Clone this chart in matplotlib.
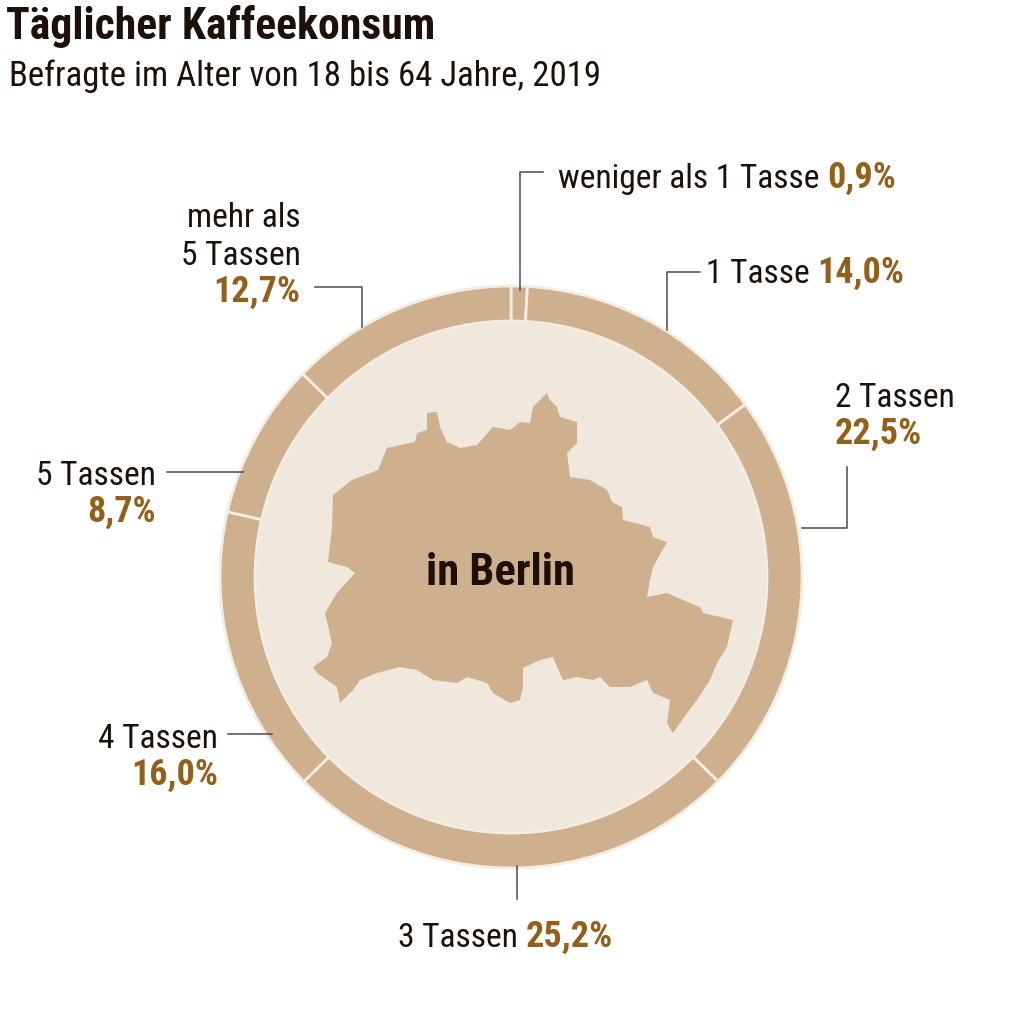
import matplotlib
matplotlib.use("Agg")
import matplotlib.pyplot as plt
from matplotlib import font_manager
from matplotlib.patches import Circle, Polygon

# Daten
kategorien = ["weniger als 1 Tasse", "1 Tasse", "2 Tassen", "3 Tassen",
              "4 Tassen", "5 Tassen", "mehr als", "5 Tassen"]
anteile = [0.9, 14.0, 22.5, 25.2, 16.0, 8.7, 12.7]
anteile_txt = ["0,9%", "14,0%", "22,5%", "25,2%", "16,0%", "8,7%", "12,7%"]

# Farben
ring_farbe = "#cfb08e"
innen_farbe = "#f0e7dd"
trenn_farbe = "#f4ede4"
text_farbe = "#1c1008"
prozent_farbe = "#93601b"
linie_farbe = "#4a4a4a"

# schmale Schrift suchen, sonst Roboto
vorhanden = {f.name for f in font_manager.fontManager.ttflist}
kandidaten = ['Roboto Condensed', 'Liberation Sans Narrow', 'DejaVu Sans Condensed',
              'Open Sans Condensed', 'Noto Sans Condensed', 'Roboto']
schrift = next((k for k in kandidaten if k in vorhanden), 'DejaVu Sans')
plt.rcParams['font.family'] = [schrift, 'DejaVu Sans']

H = 1024
fig = plt.figure(figsize=(10.24, 10.24), dpi=100)
ax = fig.add_axes([0, 0, 1, 1])

cx, cy = 511, H - 577
r_aussen = 291
r_innen = 256

ax.pie(anteile, center=(cx, cy), radius=r_aussen, startangle=90, counterclock=False,
       colors=[ring_farbe] * len(anteile),
       wedgeprops=dict(width=r_aussen - r_innen, edgecolor=trenn_farbe, linewidth=2))
ax.add_patch(Circle((cx, cy), r_innen - 1, facecolor=innen_farbe, edgecolor="none", zorder=3))

# Umriss Berlin (Pixelkoordinaten im Bild)
berlin = [(333, 495), (352, 480), (378, 470), (387, 448), (415, 442), (417, 433), (427, 430),
          (427, 413), (437, 412), (440, 427), (447, 442), (460, 448), (477, 445), (493, 427),
          (510, 430), (520, 422), (530, 423), (533, 407), (547, 393), (550, 400), (557, 407),
          (560, 417), (577, 422), (577, 443), (567, 453), (570, 477), (590, 480), (607, 490),
          (612, 502), (622, 507), (623, 520), (650, 527), (653, 537), (667, 542), (653, 567),
          (650, 580), (647, 597), (667, 593), (690, 603), (700, 607), (703, 613), (733, 620),
          (727, 647), (717, 663), (710, 680), (697, 700), (687, 713), (673, 733), (667, 723),
          (670, 700), (653, 693), (647, 680), (630, 687), (610, 687), (600, 677), (593, 680),
          (577, 677), (563, 680), (557, 667), (553, 657), (540, 660), (523, 668), (523, 687),
          (520, 700), (510, 703), (493, 693), (487, 683), (467, 677), (457, 683), (433, 680),
          (417, 670), (400, 667), (377, 673), (360, 680), (353, 690), (340, 703), (337, 687),
          (317, 673), (313, 667), (327, 657), (332, 643), (325, 613), (337, 593), (355, 573),
          (347, 567), (328, 562), (332, 527)]
ax.add_patch(Polygon([(x, H - y) for x, y in berlin], closed=True,
                     facecolor=ring_farbe, edgecolor="none", zorder=4))

ax.set_xlim(0, 1024)
ax.set_ylim(0, 1024)
ax.set_aspect("equal")
ax.axis("off")

fs = 24    # Beschriftung
fs_w = 26  # Prozentwerte

ax.text(500, H - 585, "in Berlin", fontsize=32, fontweight="bold", color=text_farbe,
        ha="center", va="baseline", zorder=5)

# Titel
ax.text(6, H - 39, "Täglicher Kaffeekonsum", fontsize=31.5, fontweight="bold",
        color=text_farbe, ha="left", va="baseline")
ax.text(9, H - 86, "Befragte im Alter von 18 bis 64 Jahre, 2019", fontsize=25,
        color=text_farbe, ha="left", va="baseline")

renderer = fig.canvas.get_renderer()


def linie(punkte):
    xs = [p[0] for p in punkte]
    ys = [H - p[1] for p in punkte]
    ax.plot(xs, ys, color=linie_farbe, linewidth=1.1, zorder=6)


def name(x, y, s, ha="left"):
    return ax.text(x, H - y, s, fontsize=fs, color=text_farbe, ha=ha, va="baseline")


def wert(x, y, s, ha="left"):
    return ax.text(x, H - y, s, fontsize=fs_w, fontweight="bold", color=prozent_farbe,
                   ha=ha, va="baseline")


def inline(x, y, s, w):
    t = name(x, y, s + " ")
    ende = t.get_window_extent(renderer)
    x_ende = ax.transData.inverted().transform((ende.x1, ende.y0))[0]
    wert(x_ende, y, w)


# weniger als 1 Tasse
linie([(520, 290), (520, 172), (543, 172)])
inline(558, 188, kategorien[0], anteile_txt[0])

# 1 Tasse
linie([(667, 330), (667, 272), (700, 272)])
inline(706, 283, kategorien[1], anteile_txt[1])

# 2 Tassen
linie([(802, 528), (847, 528), (847, 467)])
name(835, 407, kategorien[2])
wert(835, 444, anteile_txt[2])

# 3 Tassen
linie([(517, 866), (517, 899)])
inline(398, 947, kategorien[3], anteile_txt[3])

# 4 Tassen
linie([(228, 734), (272, 734)])
name(218, 748, kategorien[4], ha="right")
wert(218, 785, anteile_txt[4], ha="right")

# 5 Tassen
linie([(167, 472), (243, 472)])
name(156, 485, kategorien[5], ha="right")
wert(156, 522, anteile_txt[5], ha="right")

# mehr als 5 Tassen
linie([(315, 287), (362, 287), (362, 327)])
name(301, 227, kategorien[6], ha="right")
name(301, 265, kategorien[7], ha="right")
wert(300, 302, anteile_txt[6], ha="right")

fig.savefig("out.png", dpi=100, facecolor="white")
